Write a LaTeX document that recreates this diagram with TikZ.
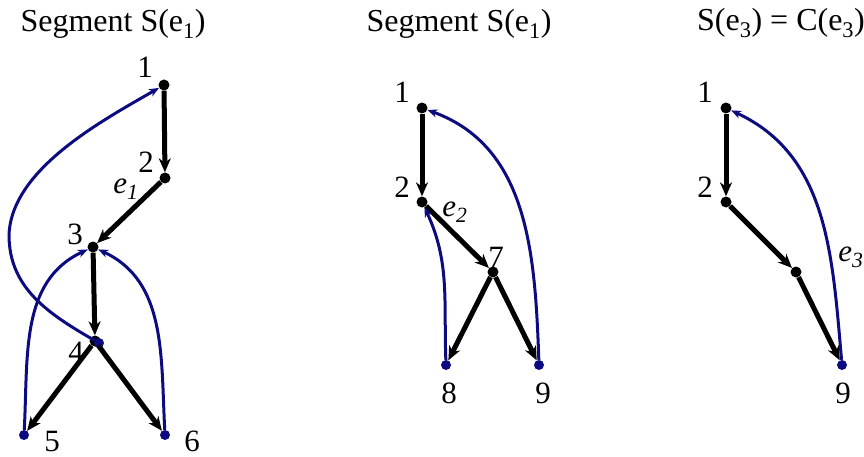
\documentclass[tikz,border=0pt]{standalone}
\usepackage{fontspec}
\setmainfont{Liberation Serif}
\usetikzlibrary{arrows.meta}
\definecolor{navy}{RGB}{12,12,128}
\begin{document}
\begin{tikzpicture}[x=1pt,y=-1pt,
  bdot/.style={circle,fill=black,inner sep=0pt,minimum size=11pt},
  ndot/.style={circle,fill=navy,inner sep=0pt,minimum size=10pt},
  tree/.style={draw=black,line width=5pt,-{Stealth[length=14pt,width=12pt,inset=4.5pt]}},
  back/.style={draw=navy,line width=3pt,-{Stealth[length=10pt,width=8pt,inset=3pt]}},
  lab/.style={font=\fontsize{31}{35}\selectfont,inner sep=0pt},
  ttl/.style={font=\fontsize{32}{36}\selectfont,inner sep=0pt,anchor=base}]
\useasboundingbox (0,0) rectangle (864,457);

% ---------- panel 1 ----------
\node[ttl] (t1) at (113,32) {Segment S(e\textsubscript{1})};
\node[bdot] (a1) at (164,85) {};
\node[bdot] (a2) at (165,178) {};
\node[bdot] (a3) at (93,247) {};
\node[bdot] (a4) at (95,341) {};
\node[ndot] (a4b) at (99,343) {};
\node[ndot] (a5) at (24,435) {};
\node[ndot] (a6) at (165,435) {};
\coordinate (aw) at (9,235);
\node[lab] (la1) at (145,67) {1};
\node[lab] (la2) at (146,162) {2};
\node[lab] (le1) at (126,189) {\textit{e}\textsubscript{\textit{1}}};
\node[lab] (la3) at (75,234) {3};
\node[lab] (la4) at (76,352) {4};
\node[lab] (la5) at (52,441) {5};
\node[lab] (la6) at (192,441) {6};
\draw[tree] (a1) -- (a2);
\draw[tree] (a2) -- (a3);
\draw[tree] (a3) -- (a4);
\draw[tree] (a4) -- (a5);
\draw[tree] (a4) -- (a6);
\draw[back] (a4b) to[out=150,in=-90] (aw) to[out=88,in=210,looseness=0.8] (a1);
\draw[back] (a5) to[out=87,in=205] (a3);
\draw[back] (a6) to[out=93,in=-25] (a3);

% ---------- panel 2 ----------
\node[ttl] (t2) at (459,32) {Segment S(e\textsubscript{1})};
\node[bdot] (b1) at (422,108) {};
\node[bdot] (b2) at (422,202) {};
\node[bdot] (b7) at (493,272) {};
\node[ndot] (b8) at (446,365) {};
\node[ndot] (b9) at (539,365) {};
\node[lab] (lb1) at (402,92) {1};
\node[lab] (lb2) at (402,187) {2};
\node[lab] (le2) at (455,212) {\textit{e}\textsubscript{\textit{2}}};
\node[lab] (lb7) at (496,257) {7};
\node[lab] (lb8) at (449,393) {8};
\node[lab] (lb9) at (543,393) {9};
\draw[tree] (b1) -- (b2);
\draw[tree] (b2) -- (b7);
\draw[tree] (b7) -- (b8);
\draw[tree] (b7) -- (b9);
\draw[back] (b9) to[out=92,in=-20] (b1);
\draw[back] (b8) to[out=92,in=-65] (b2);

% ---------- panel 3 ----------
\node[ttl] (t3) at (781,31) {S(e\textsubscript{3}) = C(e\textsubscript{3})};
\node[bdot] (c1) at (726,108) {};
\node[bdot] (c2) at (726,202) {};
\node[bdot] (cm) at (796,272) {};
\node[ndot] (c9) at (842,365) {};
\node[lab] (lc1) at (705,92) {1};
\node[lab] (lc2) at (705,187) {2};
\node[lab] (le3) at (851,257) {\textit{e}\textsubscript{\textit{3}}};
\node[lab] (lc9) at (843,393) {9};
\draw[tree] (c1) -- (c2);
\draw[tree] (c2) -- (cm);
\draw[tree] (cm) -- (c9);
\draw[back] (c9) to[out=95,in=-25] (c1);
\end{tikzpicture}
\end{document}
